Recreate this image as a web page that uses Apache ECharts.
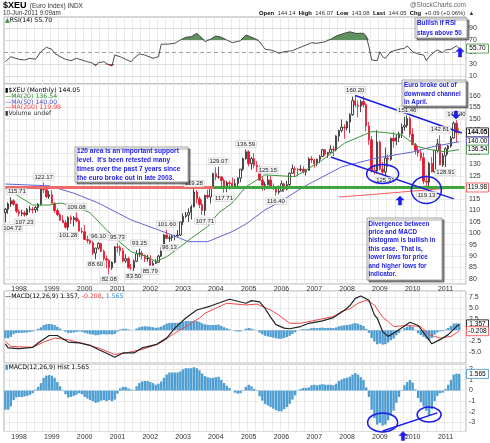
<!DOCTYPE html>
<html>
<head>
<meta charset="utf-8">
<script src="https://cdn.jsdelivr.net/npm/echarts@6.0.0/dist/echarts.min.js"></script>
<style>
html,body{margin:0;padding:0;background:#fff;}
#chart{width:490px;height:443px;}
</style>
</head>
<body>
<div id="chart"></div>
<script>
const FF = '"Liberation Sans", Arial, sans-serif';
const FL = '"DejaVu Sans", Verdana, sans-serif';

// monthly slots: Aug 1997 .. Aug 2011
const firstYear = 1997, firstMonth = 8, monthSlots = 169;

// monthly candles [open, high, low, close], Aug 1997 .. Jun 2011
const ohlc = [
[109.0,111.0,104.72,110.5],[110.5,113.5,108.5,112.8],[112.8,115.71,111.5,114.2],[114.2,114.8,112.0,112.6],[112.6,113.0,108.8,109.6],
[109.6,110.5,107.3,108.6],[108.6,110.2,107.4,108.9],[108.9,109.8,107.23,108.0],[108.0,111.0,107.8,110.4],[110.4,112.0,109.0,110.5],
[110.5,111.5,108.6,110.3],[110.3,111.8,108.8,111.2],[111.2,113.2,109.5,112.6],[112.6,121.0,112.0,119.5],[119.5,122.17,117.5,119.0],
[119.0,119.8,115.3,115.9],[115.9,118.5,115.0,116.8],[116.8,118.8,113.0,113.1],[113.1,113.5,108.8,109.9],[109.9,110.8,107.5,108.1],
[108.1,108.8,105.5,105.7],[105.7,107.9,104.5,104.6],[104.6,105.8,102.0,102.6],[102.6,107.4,101.28,106.9],[106.9,107.8,104.0,105.9],
[105.9,107.5,103.0,106.7],[106.7,109.08,104.8,105.4],[105.4,106.2,100.8,100.9],[100.9,102.4,99.8,100.6],[100.6,103.5,97.0,97.2],
[97.2,99.0,95.6,96.8],[96.8,97.6,95.0,95.8],[95.8,96.5,90.5,91.3],[91.3,93.6,88.60,93.5],[93.5,96.10,92.8,95.5],
[95.5,95.8,91.6,92.1],[92.1,92.8,88.0,88.8],[88.8,90.3,84.6,88.2],[88.2,88.6,82.08,84.9],[84.9,87.7,84.0,87.3],
[87.3,94.4,86.8,94.0],[94.0,95.73,91.5,93.8],[93.8,94.7,90.2,92.4],[92.4,93.5,87.2,87.9],[87.9,90.8,87.0,88.9],
[88.9,89.7,84.5,84.9],[84.9,86.6,83.8,84.8],[84.8,88.5,83.50,87.7],[87.7,92.6,87.4,91.0],[91.0,93.25,89.6,91.3],
[91.3,92.3,88.6,90.2],[90.2,90.8,87.4,88.9],[88.9,90.5,87.6,89.0],[89.0,90.4,85.79,86.0],[86.0,88.0,85.9,86.8],
[86.8,88.6,86.5,87.3],[87.3,90.5,87.0,90.0],[90.0,93.9,89.6,93.3],[93.3,99.6,92.6,99.2],[99.2,101.60,97.4,97.8],
[97.8,99.1,96.13,98.0],[98.0,99.4,96.5,98.6],[98.6,99.3,96.9,98.8],[98.8,101.4,98.4,99.2],[99.2,105.0,98.8,104.9],
[104.9,108.7,103.6,107.3],[107.3,109.3,106.6,107.9],[107.9,110.8,104.9,109.0],[109.0,112.4,106.0,111.5],[111.5,119.28,111.3,118.0],
[118.0,118.9,113.0,115.0],[115.0,116.0,111.0,112.5],[112.5,114.6,107.9,109.9],[109.9,116.8,107.71,116.5],[116.5,119.0,115.0,115.8],
[115.8,120.2,113.0,119.9],[119.9,126.5,119.3,126.0],[126.0,128.8,123.1,124.6],[124.6,129.07,123.8,124.6],[124.6,125.0,120.6,123.0],
[123.0,123.9,117.71,119.6],[119.6,122.9,117.9,122.1],[122.1,123.0,119.1,121.7],[121.7,124.3,120.0,120.2],[120.2,123.6,119.9,121.7],
[121.7,124.4,120.1,124.1],[124.1,128.1,122.3,128.0],[128.0,133.0,127.2,132.6],[132.6,136.59,132.1,135.6],[135.6,136.2,129.2,130.4],
[130.4,133.3,127.7,132.6],[132.6,135.0,128.4,129.6],[129.6,131.5,126.7,128.7],[128.7,129.5,122.8,123.2],[123.2,124.5,118.6,121.0],
[121.0,122.5,118.7,121.2],[121.2,125.15,120.9,123.3],[123.3,124.9,119.9,120.4],[120.4,121.7,118.9,119.9],[119.9,120.4,116.40,117.9],
[117.9,120.9,116.9,118.4],[118.4,123.0,118.2,121.6],[121.6,122.0,118.0,119.2],[119.2,122.8,118.7,121.2],[121.2,126.6,120.6,126.2],
[126.2,130.0,125.9,128.2],[128.2,129.3,124.9,127.9],[127.9,128.6,124.9,127.7],[127.7,129.7,126.9,128.0],[128.0,129.3,126.1,126.9],
[126.9,128.0,125.2,127.5],[127.5,133.2,127.2,132.5],[132.5,133.7,130.6,132.0],[132.0,132.4,128.6,130.4],[130.4,132.6,129.3,132.3],
[132.3,134.2,130.6,133.5],[133.5,136.8,133.3,136.5],[136.5,136.8,133.8,134.5],[134.5,135.5,132.9,135.3],[135.3,138.5,134.8,136.7],
[136.7,138.2,133.7,136.4],[136.4,142.8,135.8,142.5],[142.5,145.2,140.0,144.9],[144.9,149.7,144.0,146.3],[146.3,147.6,141.2,146.0],
[146.0,149.1,144.9,148.6],[148.6,152.4,143.7,151.8],[151.8,159.7,151.3,157.9],[157.9,160.20,155.1,156.0],[156.0,158.0,150.7,155.5],
[155.5,158.3,152.9,157.5],[157.5,160.0,155.0,156.1],[156.1,157.0,144.5,146.8],[146.8,148.7,138.6,140.8],[140.8,142.5,126.5,127.4],
[127.4,130.1,125.6,127.2],[127.2,145.0,126.0,139.8],[139.8,140.5,127.5,128.0],[128.0,131.3,125.8,126.7],[126.7,137.4,125.31,132.8],
[132.8,134.4,128.9,132.3],[132.3,141.7,131.6,141.5],[141.5,144.3,137.4,140.3],[140.3,143.0,138.5,141.7],[141.7,144.4,139.8,143.5],
[143.5,148.0,141.6,146.4],[146.4,150.8,144.8,147.1],[147.1,151.46,146.1,150.1],[150.1,151.0,141.9,143.3],[143.3,145.8,138.6,138.7],
[138.7,139.5,134.4,136.2],[136.2,138.2,133.4,135.1],[135.1,136.9,131.6,133.0],[133.0,135.2,121.4,122.7],[122.7,125.2,119.13,122.3],
[122.3,131.1,120.0,130.5],[130.5,133.3,126.6,126.8],[126.8,136.4,126.5,136.2],[136.2,141.2,135.2,139.0],[139.0,142.81,129.7,129.8],
[129.8,135.0,129.0,133.8],[133.8,137.6,128.91,136.9],[136.9,138.6,134.4,138.1],[138.1,142.5,137.3,141.6],[141.6,148.8,141.3,148.1],
[148.1,149.40,139.7,143.9],[144.14,146.07,143.08,144.05]
];

// candles carrying a value label (month index)
const highLabelIdx = [2,14,26,34,41,49,59,69,78,88,96,128,147,159,165];
const lowLabelIdx  = [0,7,23,33,38,47,53,60,73,80,99,139,154,161];

// moving averages: [month index, value]
const ma20 = [[0,119.8],[10,112.3],[16,112.3],[20,113.2],[26,111.6],[31,108.9],[37,101.4],[41,97.0],[46,91.9],[52,89.7],[55,87.6],[59,89.7],[64,94.1],[68,97.8],[74,102.9],[78,108.9],[83,113.2],[88,120.3],[95,125.5],[106,124.7],[116,132.0],[124,139.3],[134,144.4],[139,144.0],[145,142.9],[151,137.8],[156,136.4],[161,135.6],[166,136.54]];
const ma50 = [[0,121.5],[16,120.7],[25,117.5],[34,113.2],[46,105.8],[59,100.1],[67,96.3],[74,96.3],[83,100.7],[88,104.0],[95,110.2],[101,114.1],[109,120.2],[123,129.0],[136,132.9],[149,135.5],[156,137.7],[166,140.00]];
const ma200 = [[122,115.8],[135,117.0],[145,118.0],[155,119.0],[166,119.98]];

// RSI(14)
const rsi = [[0,33.9],[2,42.2],[5,37.9],[7,36.8],[9,39.6],[11,37.9],[13,50.5],[15,57.8],[17,54.5],[18,47.9],[20,42.2],[22,37.9],[24,35.6],[26,39.6],[28,36.8],[30,33.9],[32,31.3],[33,27.3],[34,32.3],[36,33.9],[38,28.5],[39,26.8],[40,45],[42,42.2],[44,37.9],[46,33.9],[47,39.6],[49,46.7],[51,45],[54,39.6],[56,42.2],[57,62.8],[60,63.3],[62,64.4],[64,69.9],[66,74.4],[68,75.4],[70,81],[72,72.7],[73,67.1],[75,71.1],[77,76.5],[79,74.4],[81,69.9],[83,65.4],[86,68.7],[88,78.2],[89,76.5],[91,72.7],[93,67.1],[95,54.5],[97,53.3],[99,50.5],[100,47.9],[102,50.5],[105,52.2],[107,56.1],[110,61.6],[112,65.4],[114,64.4],[117,67.1],[119,71.1],[121,76.5],[124,81],[126,83.6],[128,81],[131,81],[132,76.5],[133,58.8],[134,36.8],[136,35.6],[137,50.5],[138,42.2],[139,39.6],[141,50.5],[144,54.5],[146,56.1],[147,60],[149,50.5],[151,46.7],[153,45],[154,35.6],[155,42.2],[157,50.5],[158,53.3],[160,48.9],[161,53.3],[163,54.5],[165,60],[166,55.70]];

// MACD(12,26,9) line and signal
const macd = [[0,-3.1],[1,-4.05],[5,-4.2],[10,-3.9],[12,-2.9],[16,-1.2],[19,-1.2],[23,-2.7],[27,-2.9],[31,-3.45],[34,-4.4],[38,-5.55],[40,-6.2],[43,-5.2],[47,-5.2],[50,-4.05],[55,-3.3],[59,-1.8],[62,0.5],[66,2.8],[70,4.65],[75,5.55],[82,7.1],[88,6.2],[90,6.8],[93,6.5],[95,5.0],[97,3.0],[99,1.3],[102,0.5],[104,0.35],[108,0.85],[111,1.6],[116,2.15],[120,2.9],[124,4.6],[126,5.6],[128,7.3],[130,7.85],[133,6.9],[135,3.5],[136,2.8],[138,-0.3],[140,-1.4],[143,-0.3],[148,1.85],[151,1.1],[154,-1.4],[156,-3.1],[159,-2.15],[162,-1.0],[165,0.85],[166,1.357]];
const signal = [[0,-2.55],[2,-3.7],[10,-3.9],[14,-2.7],[18,-1.8],[23,-2.15],[29,-3.15],[34,-4.05],[40,-5.55],[44,-5.2],[50,-4.4],[56,-3.15],[62,-0.65],[66,0.85],[71,2.8],[73,3.9],[81,6.2],[88,5.8],[92,6.0],[97,4.65],[100,3.5],[104,1.6],[108,1.6],[120,3.15],[123,4.3],[126,4.9],[129,6.2],[132,6.9],[135,5.8],[138,3.0],[140,2.0],[142,0.85],[147,1.1],[152,0.85],[155,-1.0],[159,-1.8],[163,-1.4],[166,-0.208]];

// MACD histogram, one value per month
const hist = [
-1.8,-1.8,-1.5,-0.9,-0.65,-0.6,-0.6,-0.55,-0.5,-0.4,
-0.25,0.1,0.35,0.7,1.2,1.4,1.45,1.4,1.2,0.8,
0.4,-0.05,-0.35,-0.65,-0.6,-0.5,-0.4,-0.25,-0.35,-0.6,
-0.75,-0.9,-1.0,-1.15,-1.1,-0.95,-0.9,-1.0,-0.9,-1.0,
-0.85,-0.3,0.2,0.35,0.35,0.2,0.1,0.05,0.4,0.7,
0.85,0.9,0.9,0.8,0.7,0.55,0.65,0.85,1.2,1.5,
1.7,1.7,1.7,1.7,1.8,2.0,2.1,2.1,2.1,2.2,
2.1,1.9,1.6,1.35,1.25,1.2,1.2,1.25,1.3,1.0,
0.7,0.45,0.25,0.0,-0.2,-0.3,-0.25,-0.05,0.35,0.55,
0.4,0.15,-0.05,-0.55,-0.95,-1.25,-1.4,-1.55,-1.7,-1.85,
-1.95,-1.95,-1.75,-1.55,-1.25,-0.85,-0.45,-0.05,0.15,0.25,
0.25,0.3,0.5,0.55,0.5,0.55,0.6,0.55,0.55,0.55,
0.5,0.65,0.9,1.05,1.15,1.2,1.3,1.5,1.65,1.5,
1.25,1.0,0.3,-0.6,-1.8,-2.6,-3.2,-3.05,-3.3,-3.2,
-2.8,-2.3,-1.9,-1.15,-0.6,0.05,0.5,0.8,1.0,0.75,
0.1,-0.7,-1.1,-1.5,-1.9,-2.3,-1.75,-1.0,-0.5,-0.25,
-0.2,0.15,0.55,1.0,1.5,1.6,1.565
];

const rsiTickLabels = [10,30,50,70,90];
const rsiGuides = [10,30,70,90];
const rsiMid = 50, rsiHigh = 70, rsiLow = 30;
const supportLevel = 120;
const supportSplitIdx = 76;         // support line turns from red to green (late 2003)
const upperChannel = [[128,160.2],[167,143.8]];
const lowerChannel = [[119,133.3],[164,115.0]];
const histTrend = [[138,-3.8],[158,-2.1]];
const priceEllipses = [[137.8,125.9,16,9.5],[154.2,118.9,15,13.5]];
const histEllipses  = [[138,-3.0,15,9.5],[155.3,-2.26,12,7.5]];

// ---------------------------------------------------------------
const cats = [];
for (let k = 0; k < monthSlots; k++) {
  const m = firstMonth - 1 + k;
  cats.push((firstYear + Math.floor(m / 12)) + '-' + String(m % 12 + 1).padStart(2, '0'));
}
const last = a => a[a.length - 1][1];
const lastClose = ohlc[ohlc.length - 1][3];

const gridBase = {left:4, right:24, show:true, borderColor:'#9a9a9a', borderWidth:0.8};
function xa(gi, showLabels) {
  return {type:'category', gridIndex:gi, data:cats, boundaryGap:true,
    axisLine:{show:false}, axisTick:{show:false},
    axisLabel:{show:showLabels, interval:(i, v) => v.slice(5) === '01', formatter:v => v.slice(0,4),
      fontSize:7, color:'#333', margin:2, fontFamily:FF},
    splitLine:{show:true, interval:(i) => i % 3 === 2, lineStyle:{color:'#e4e4e4', width:0.8}}};
}
const ylab = {fontSize:7, color:'#333', margin:3, fontFamily:FF};
const near = (a, b) => Math.abs(a - b) < 1e-6;

const candleData = ohlc.map((r, i) => {
  const item = {value:[r[0], r[3], r[2], r[1]]};
  if (i === ohlc.length - 1) item.itemStyle = {color:'#f2c200', color0:'#f2c200', borderColor:'#b08000', borderColor0:'#b08000'};
  return item;
});

const markLabels = [
  ...highLabelIdx.map(i => ({coord:[i, ohlc[i][1]], value:ohlc[i][1].toFixed(2), label:{position:'top', offset:[i < 3 ? 6 : 0, 0]}})),
  ...lowLabelIdx.map(i => ({coord:[i, ohlc[i][2]], value:ohlc[i][2].toFixed(2), label:{position:'bottom', offset:[i < 3 ? 7 : 0, 0]}}))
];

const blue = '#1c1ce8';
const seg = (a, b, style) => [{coord:a, lineStyle:style}, {coord:b, lineStyle:style}];
const redSup = {color:'#f06a6a', width:3, type:'solid'};
const greenSup = {color:'#3fa63f', width:3, type:'solid'};
const chanStyle = {color:blue, width:1.5, type:'solid'};

const option = {
  animation:false,
  backgroundColor:'#fff',
  grid:[
    Object.assign({top:17, height:67}, gridBase),
    Object.assign({top:84, height:200}, gridBase),
    Object.assign({top:291, height:72}, gridBase),
    Object.assign({top:364.5, height:67}, gridBase)
  ],
  xAxis:[xa(0,false), xa(1,true), xa(2,false), xa(3,true)],
  yAxis:[
    {type:'value', gridIndex:0, position:'right', min:-3, max:108, splitNumber:11,
     axisLine:{show:false}, axisTick:{show:false}, splitLine:{show:false},
     axisLabel:Object.assign({formatter:v => rsiTickLabels.some(t => near(t, v)) ? String(v) : ''}, ylab)},
    {type:'value', gridIndex:1, position:'right', min:77.8, max:165.2, splitNumber:17,
     axisLine:{show:false}, axisTick:{show:false}, splitLine:{show:true, lineStyle:{color:'#e4e4e4', width:0.8}},
     axisLabel:Object.assign({formatter:v => (near(v, Math.round(v/5)*5) && v >= 80 && v <= 160) ? String(Math.round(v)) : ''}, ylab)},
    {type:'value', gridIndex:2, position:'right', min:-7.5, max:9, interval:2.5,
     axisLine:{show:false}, axisTick:{show:false}, splitLine:{show:true, lineStyle:{color:'#e4e4e4', width:0.8}},
     axisLabel:Object.assign({formatter:v => (v >= -5 && v <= 7.5) ? v.toFixed(1) : ''}, ylab)},
    {type:'value', gridIndex:3, position:'right', min:-3.85, max:2.45, splitNumber:6,
     axisLine:{show:false}, axisTick:{show:false}, splitLine:{show:true, lineStyle:{color:'#e4e4e4', width:0.8}},
     axisLabel:Object.assign({formatter:v => (near(v, Math.round(v)) && v >= -3 && v <= 2) ? String(Math.round(v)) : ''}, ylab)}
  ],
  series:[
    // RSI guides (invisible carrier)
    {type:'line', xAxisIndex:0, yAxisIndex:0, data:rsi, symbol:'none', z:1, lineStyle:{opacity:0}, silent:true,
     markLine:{symbol:['none','none'], silent:true, label:{show:false}, animation:false,
       data:[...rsiGuides.map(v => ({yAxis:v, lineStyle:{color:'#d6d6d6', width:0.8, type:'solid'}})),
             {yAxis:rsiMid, lineStyle:{color:'#8a8a8a', width:0.8, type:[4,3]}}]}},
    {type:'line', xAxisIndex:0, yAxisIndex:0, data:rsi.map(p => [p[0], Math.max(p[1], rsiHigh)]), symbol:'none', z:6,
     lineStyle:{opacity:0}, areaStyle:{origin:rsiHigh, color:'#5e915e', opacity:1}, silent:true},
    {type:'line', xAxisIndex:0, yAxisIndex:0, data:rsi.map(p => [p[0], Math.min(p[1], rsiLow)]), symbol:'none', z:6,
     lineStyle:{opacity:0}, areaStyle:{origin:rsiLow, color:'#d24444', opacity:1}, silent:true},
    {type:'line', xAxisIndex:0, yAxisIndex:0, data:rsi, symbol:'none', z:10, lineStyle:{color:'#3a3a3a', width:0.9}},
    // price
    {type:'candlestick', xAxisIndex:1, yAxisIndex:1, data:candleData, barWidth:'70%', z:3,
     itemStyle:{color:'#ffffff', color0:'#e3142c', borderColor:'#1a1a1a', borderColor0:'#e3142c', borderWidth:0.8},
     markPoint:{symbol:'rect', symbolSize:1, itemStyle:{color:'rgba(0,0,0,0)'}, silent:true, animation:false,
       label:{show:true, fontSize:6, color:'#222', fontFamily:FF, backgroundColor:'rgba(244,244,244,0.95)',
              borderColor:'#c8c8c8', borderWidth:0.5, padding:[0,1,0,1], distance:2, formatter:p => p.value},
       data:markLabels},
     markLine:{symbol:['none','none'], silent:true, label:{show:false}, animation:false,
       data:[seg([0, supportLevel], [supportSplitIdx, supportLevel], redSup),
             seg([supportSplitIdx, supportLevel], [monthSlots - 1, supportLevel], greenSup),
             seg(upperChannel[0], upperChannel[1], chanStyle),
             seg(lowerChannel[0], lowerChannel[1], chanStyle)]}},
    {type:'line', xAxisIndex:1, yAxisIndex:1, data:ma200, symbol:'none', z:4, lineStyle:{color:'#ff5a5a', width:1}},
    {type:'line', xAxisIndex:1, yAxisIndex:1, data:ma50, symbol:'none', z:4, lineStyle:{color:'#6464d2', width:1}},
    {type:'line', xAxisIndex:1, yAxisIndex:1, data:ma20, symbol:'none', z:4, lineStyle:{color:'#3c963c', width:1}},
    // MACD panel
    {type:'bar', xAxisIndex:2, yAxisIndex:2, data:hist, barCategoryGap:'12%', itemStyle:{color:'#4f9ed2'}, z:2},
    {type:'line', xAxisIndex:2, yAxisIndex:2, data:signal, symbol:'none', z:4, lineStyle:{color:'#f04848', width:1}},
    {type:'line', xAxisIndex:2, yAxisIndex:2, data:macd, symbol:'none', z:5, lineStyle:{color:'#222', width:1.2}},
    // histogram panel
    {type:'bar', xAxisIndex:3, yAxisIndex:3, data:hist, barCategoryGap:'12%', itemStyle:{color:'#4f9ed2'}, z:2,
     markLine:{symbol:['none','none'], silent:true, label:{show:false}, animation:false,
       data:[seg(histTrend[0], histTrend[1], chanStyle)]}}
  ]
};

const chart = echarts.init(document.getElementById('chart'));
chart.setOption(option);

// ---------------- annotations ----------------
const P = (k, pt) => chart.convertToPixel({xAxisIndex:k, yAxisIndex:k}, pt);
const g = [];
const txt = (x, y, text, rich) => g.push({type:'text', z:100, x, y, style:{text, rich, verticalAlign:'middle'}});

// header
txt(3, 6, '{a|$XEU} {b|(Euro Index) INDX}', {a:{font:'bold 9px ' + FF, fill:'#000'}, b:{font:'6.5px ' + FF, fill:'#333'}});
txt(3, 13.5, '{b|10-Jun-2011 9:09am}', {b:{font:'6.3px ' + FF, fill:'#333'}});
g.push({type:'text', z:100, x:466, y:5, style:{text:'@StockCharts.com', font:'6.5px ' + FF, fill:'#666', align:'right', verticalAlign:'middle'}});
txt(259, 13, '{k|Open} {v|144.14} {k|High} {v|146.07} {k|Low} {v|143.08} {k|Last} {v|' + lastClose.toFixed(2) + '} {k|Chg} {v|+0.09 (+0.06%)} {v|\u25B2}',
  {k:{font:'bold 5.9px ' + FF, fill:'#000'}, v:{font:'5.9px ' + FF, fill:'#333'}});

// panel legends
const lf = '6.2px ' + FL;
txt(5, 20.5, '{g|\u25B2}{k|RSI(14) ' + last(rsi).toFixed(2) + '}', {g:{font:lf, fill:'#3c8c3c'}, k:{font:lf, fill:'#000'}});
txt(5, 90, '{k|\u25AE$XEU (Monthly) ' + lastClose.toFixed(2) + '}', {k:{font:lf, fill:'#000'}});
txt(5, 96, '{c|\u2014MA(20) ' + last(ma20).toFixed(2) + '}', {c:{font:lf, fill:'#2e8b2e'}});
txt(5, 102, '{c|\u2014MA(50) ' + last(ma50).toFixed(2) + '}', {c:{font:lf, fill:'#4a4ac8'}});
txt(5, 107.7, '{c|\u2014MA(200) ' + last(ma200).toFixed(2) + '}', {c:{font:lf, fill:'#ff4040'}});
txt(5, 113.3, '{c|\u25AEVolume undef}', {c:{font:lf, fill:'#333'}});
txt(5, 296.7, '{k|\u2014MACD(12,26,9) ' + last(macd).toFixed(3) + ', }{r|' + last(signal).toFixed(3) + '}{k|, }{b|' + hist[hist.length-1].toFixed(3) + '}',
  {k:{font:lf, fill:'#000'}, r:{font:lf, fill:'#f03c3c'}, b:{font:lf, fill:'#3a8fd0'}});
txt(5, 367.5, '{b|\u25AE}{k|MACD(12,26,9) Hist ' + hist[hist.length-1].toFixed(3) + '}', {b:{font:lf, fill:'#3a8fd0'}, k:{font:lf, fill:'#000'}});

// last value tags on the right axis
function tag(k, v, text, border, color, bold) {
  const y = P(k, [0, v])[1];
  g.push({type:'rect', z:110, shape:{x:466.5, y:y - 4.5, width:22, height:9}, style:{fill:'#fff', stroke:border, lineWidth:0.8}});
  g.push({type:'text', z:111, x:477.5, y:y, style:{text, font:(bold ? 'bold ' : '') + '6.5px ' + FF, fill:color, align:'center', verticalAlign:'middle'}});
}
tag(0, last(rsi), last(rsi).toFixed(2), '#3c8c3c', '#000', false);
tag(1, lastClose, lastClose.toFixed(2), '#000', '#000', true);
tag(1, last(ma50), last(ma50).toFixed(2), '#4a4ac8', '#000', false);
tag(1, last(ma20), last(ma20).toFixed(2), '#2e8b2e', '#000', false);
tag(1, last(ma200), last(ma200).toFixed(2), '#ff4040', '#000', false);
tag(2, last(macd), last(macd).toFixed(3), '#000', '#000', false);
tag(2, last(signal), last(signal).toFixed(3), '#ff4040', '#000', false);
tag(3, hist[hist.length-1], hist[hist.length-1].toFixed(3), '#3a8fd0', '#000', false);

// ellipses
function ell(k, e) {
  const c = P(k, [e[0], e[1]]);
  g.push({type:'ellipse', z:105, shape:{cx:c[0], cy:c[1], rx:e[2], ry:e[3]}, style:{fill:'none', stroke:blue, lineWidth:1.5}});
}
priceEllipses.forEach(e => ell(1, e));
histEllipses.forEach(e => ell(3, e));

// block arrows
function arrow(x, tipY, h, up) {
  const s = up ? 1 : -1;
  const pts = [[x, tipY], [x + 4, tipY + 4 * s], [x + 1.6, tipY + 4 * s], [x + 1.6, tipY + h * s],
               [x - 1.6, tipY + h * s], [x - 1.6, tipY + 4 * s], [x - 4, tipY + 4 * s]];
  g.push({type:'polygon', z:106, shape:{points:pts}, style:{fill:blue, stroke:blue, lineWidth:0.5}});
}
arrow(460, 47.5, 9.5, true);
arrow(456, 119, 8, false);
arrow(400, 196, 9, true);
arrow(403, 431.5, 9, true);

// note boxes
function note(x, y, w, h, lines, fs, lh, px, py) {
  g.push({type:'rect', z:120, shape:{x, y, width:w, height:h},
    style:{fill:'#fff', stroke:'#8a8a8a', lineWidth:0.8, shadowColor:'rgba(0,0,0,0.45)', shadowOffsetX:2, shadowOffsetY:2, shadowBlur:1}});
  g.push({type:'text', z:121, x:x + px, y:y + py,
    style:{text:lines.join('\n'), font:'bold ' + fs + 'px ' + FF, fill:blue, lineHeight:lh, verticalAlign:'top'}});
}
note(415, 18, 52, 20, ['Bullish if RSI', 'stays above 50'], 6.3, 9.6, 2, 0.8);
note(402, 80, 64, 26, ['Euro broke out of', 'downward channel', 'in April.'], 6.3, 8.8, 2, 0.6);
note(75, 147, 113, 35, ['120 area is an important support', "level.  It's been retested many",
  'times over the past 7 years since', 'the euro broke out in late 2003.'], 6.6, 8.7, 2, 0.3);
note(367, 218, 75, 62, ['Divergence between', 'price and MACD', 'histogram is bullish in', 'this case.  That is,',
  'lower lows for price', 'and higher lows for', 'indicator.'], 6.3, 8.38, 1.5, 1.8);

chart.setOption({graphic:{elements:g}});
</script>
</body>
</html>
